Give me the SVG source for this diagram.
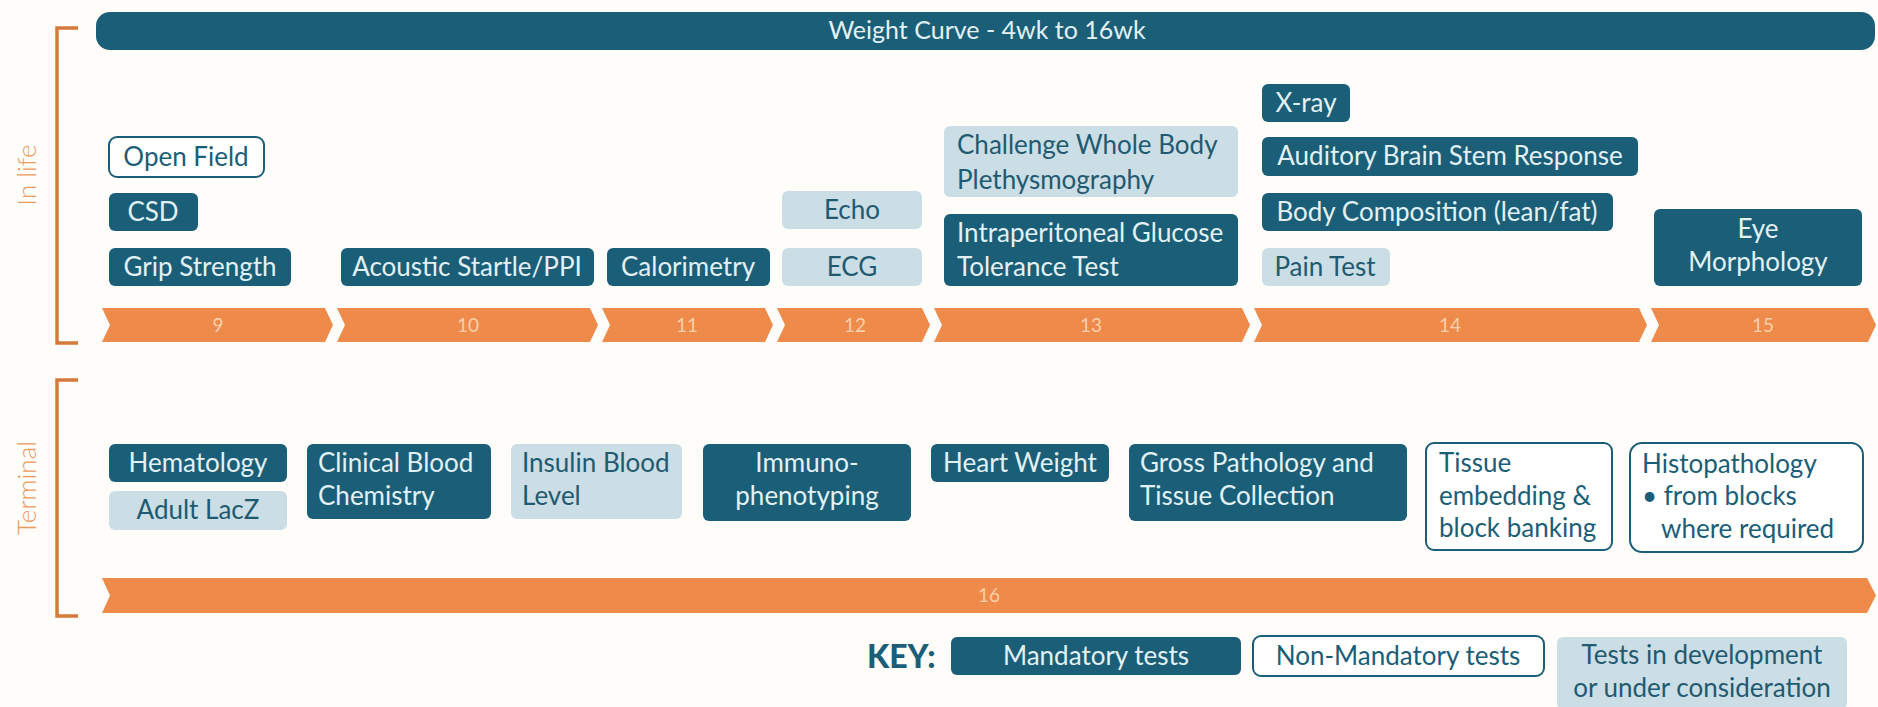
<svg xmlns="http://www.w3.org/2000/svg" width="1878" height="707" viewBox="0 0 1878 707">
<style>
text{font-family:Lato,"Open Sans","Liberation Sans",sans-serif;font-size:26px}
.m{fill:#1b5e77}
.n{fill:#ffffff;stroke:#1b5e77;stroke-width:2}
.d{fill:#cbdde5}
.tm{fill:#e2f1f5}
.tn{fill:#1b5e77}
.td{fill:#1f5a70}
.c{text-anchor:middle}
.ar{fill:#ee8a4a}
.al{fill:#fbd0ac;font-size:19px;text-anchor:middle}
.br{fill:none;stroke:#d67a3c;stroke-width:3.5}
.sec{fill:#eb9a60;font-weight:300;text-anchor:middle}
</style>
<rect width="1878" height="707" fill="#fffdf9"/>
<g id="brackets">
<path class="br" d="M78,28 H57 V343 H78"/>
<path class="br" d="M78,380 H57 V616 H78"/>
<text class="sec" transform="translate(36,175) rotate(-90)">In life</text>
<text class="sec" transform="translate(36,488) rotate(-90)">Terminal</text>
</g>
<g id="weight-curve"><rect class="m" x="96" y="12" width="1779" height="38" rx="14"/><text class="tm c" x="987" y="39" style="font-size:25px">Weight Curve - 4wk to 16wk</text></g>
<g id="timeline">
<polygon class="ar" points="102,308 325,308 333,325 325,342 102,342 110,325"/><text class="al" x="218" y="332">9</text>
<polygon class="ar" points="337,308 590,308 598,325 590,342 337,342 345,325"/><text class="al" x="468" y="332">10</text>
<polygon class="ar" points="602,308 765,308 773,325 765,342 602,342 610,325"/><text class="al" x="687" y="332">11</text>
<polygon class="ar" points="777,308 922,308 930,325 922,342 777,342 785,325"/><text class="al" x="855" y="332">12</text>
<polygon class="ar" points="934,308 1242,308 1250,325 1242,342 934,342 942,325"/><text class="al" x="1091" y="332">13</text>
<polygon class="ar" points="1254,308 1639,308 1647,325 1639,342 1254,342 1262,325"/><text class="al" x="1450" y="332">14</text>
<polygon class="ar" points="1651,308 1868,308 1876,325 1868,342 1651,342 1659,325"/><text class="al" x="1763" y="332">15</text>
<polygon class="ar" points="102,578 1867,578 1876,595.5 1867,613 102,613 110,595.5"/><text class="al" x="989" y="602">16</text>
</g>
<g id="connectors"></g>
<g id="open-field"><rect class="n" x="109" y="137" width="155" height="40" rx="8"/><text class="tn c" x="186" y="166">Open Field</text></g>
<g id="csd"><rect class="m" x="109" y="193" width="89" height="38" rx="6"/><text class="tm c" x="153" y="221">CSD</text></g>
<g id="grip-strength"><rect class="m" x="109" y="248" width="182" height="38" rx="6"/><text class="tm c" x="200" y="276">Grip Strength</text></g>
<g id="acoustic-startle"><rect class="m" x="341" y="248" width="253" height="38" rx="6"/><text class="tm c" x="467" y="276">Acoustic Startle/PPI</text></g>
<g id="calorimetry"><rect class="m" x="607" y="248" width="163" height="38" rx="6"/><text class="tm c" x="688" y="276">Calorimetry</text></g>
<g id="echo"><rect class="d" x="782" y="191" width="140" height="38" rx="6"/><text class="td c" x="852" y="219">Echo</text></g>
<g id="ecg"><rect class="d" x="782" y="248" width="140" height="38" rx="6"/><text class="td c" x="852" y="276">ECG</text></g>
<g id="plethysmography"><rect class="d" x="944" y="126" width="294" height="71" rx="6"/><text class="td" x="957" y="154">Challenge Whole Body</text><text class="td" x="957" y="189">Plethysmography</text></g>
<g id="ipgtt"><rect class="m" x="944" y="214" width="294" height="72" rx="6"/><text class="tm" x="957" y="242">Intraperitoneal Glucose</text><text class="tm" x="957" y="276">Tolerance Test</text></g>
<g id="x-ray"><rect class="m" x="1262" y="84" width="88" height="38" rx="6"/><text class="tm c" x="1306" y="112">X-ray</text></g>
<g id="absr"><rect class="m" x="1262" y="137" width="376" height="39" rx="6"/><text class="tm c" x="1450" y="165">Auditory Brain Stem Response</text></g>
<g id="body-composition"><rect class="m" x="1262" y="193" width="351" height="38" rx="6"/><text class="tm c" x="1437" y="221">Body Composition (lean/fat)</text></g>
<g id="pain-test"><rect class="d" x="1262" y="248" width="128" height="38" rx="6"/><text class="td c" x="1325" y="276">Pain Test</text></g>
<g id="eye-morphology"><rect class="m" x="1654" y="209" width="208" height="77" rx="6"/><text class="tm c" x="1758" y="238">Eye</text><text class="tm c" x="1758" y="271">Morphology</text></g>
<g id="hematology"><rect class="m" x="109" y="444" width="178" height="38" rx="6"/><text class="tm c" x="198" y="472">Hematology</text></g>
<g id="adult-lacz"><rect class="d" x="109" y="491" width="178" height="39" rx="6"/><text class="td c" x="198" y="519">Adult LacZ</text></g>
<g id="clinical-blood-chemistry"><rect class="m" x="307" y="444" width="184" height="75" rx="6"/><text class="tm" x="318" y="472">Clinical Blood</text><text class="tm" x="318" y="505">Chemistry</text></g>
<g id="insulin-blood-level"><rect class="d" x="511" y="444" width="171" height="75" rx="6"/><text class="td" x="522" y="472">Insulin Blood</text><text class="td" x="522" y="505">Level</text></g>
<g id="immunophenotyping"><rect class="m" x="703" y="444" width="208" height="77" rx="6"/><text class="tm c" x="807" y="472">Immuno-</text><text class="tm c" x="807" y="505">phenotyping</text></g>
<g id="heart-weight"><rect class="m" x="931" y="444" width="178" height="38" rx="6"/><text class="tm c" x="1020" y="472">Heart Weight</text></g>
<g id="gross-pathology"><rect class="m" x="1129" y="444" width="278" height="77" rx="6"/><text class="tm" x="1140" y="472">Gross Pathology and</text><text class="tm" x="1140" y="505">Tissue Collection</text></g>
<g id="tissue-embedding"><rect class="n" x="1426" y="443" width="186" height="107" rx="8"/><text class="tn" x="1439" y="472">Tissue</text><text class="tn" x="1439" y="505">embedding &amp;</text><text class="tn" x="1439" y="537">block banking</text></g>
<g id="histopathology"><rect class="n" x="1630" y="443" width="233" height="109" rx="12"/><text class="tn" x="1642" y="473">Histopathology</text><text class="tn" x="1642" y="505">• from blocks</text><text class="tn" x="1661" y="538">where required</text></g>
<g id="key">
<text x="867" y="668" style="font-size:32px;font-weight:900;fill:#1b5e77">KEY:</text>
<g id="key-mandatory"><rect class="m" x="951" y="637" width="290" height="38" rx="6"/><text class="tm c" x="1096" y="665">Mandatory tests</text></g>
<g id="key-non-mandatory"><rect class="n" x="1253" y="636" width="291" height="40" rx="8"/><text class="tn c" x="1398" y="665">Non-Mandatory tests</text></g>
<g id="key-development"><rect class="d" x="1557" y="637" width="290" height="72" rx="6"/><text class="td c" x="1702" y="664">Tests in development</text><text class="td c" x="1702" y="697">or under consideration</text></g>
</g>
</svg>
